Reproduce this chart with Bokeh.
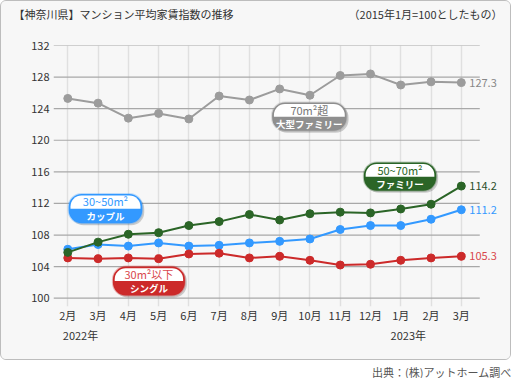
from bokeh.plotting import figure
from bokeh.layouts import column
from bokeh.models import Label, BoxAnnotation, FixedTicker, ColumnDataSource, LinearAxis
from bokeh.embed import file_html
from bokeh.resources import INLINE

months = ["2月", "3月", "4月", "5月", "6月", "7月", "8月", "9月", "10月", "11月", "12月", "1月", "2月", "3月"]
years = ["2022年", "2023年"]
year_pos = [0.42, 11.25]
large_family = [125.3, 124.7, 122.8, 123.4, 122.7, 125.6, 125.1, 126.5, 125.7, 128.2, 128.4, 127.0, 127.4, 127.3]
family = [105.8, 107.1, 108.1, 108.3, 109.2, 109.7, 110.6, 109.9, 110.7, 110.9, 110.8, 111.3, 111.9, 114.2]
couple = [106.2, 106.8, 106.6, 107.0, 106.6, 106.7, 107.0, 107.2, 107.5, 108.7, 109.2, 109.2, 110.0, 111.2]
single = [105.1, 105.0, 105.1, 105.0, 105.6, 105.7, 105.1, 105.3, 104.8, 104.2, 104.3, 104.8, 105.1, 105.3]
y_ticks = [100, 104, 108, 112, 116, 120, 124, 128, 132]

FONT = "Noto Sans CJK JP"
BG = "#f7f7f7"
INNER_W = 509
HEAD_H = 30
MAIN_H = 328

src = ColumnDataSource(dict(x=list(range(len(months))), large=large_family,
                            family=family, couple=couple, single=single))

# ---- header (title row) ----
head = figure(width=INNER_W, height=HEAD_H, output_backend="svg", toolbar_location=None,
              x_axis_type=None, y_axis_type=None, min_border=0, frame_align=False,
              background_fill_color=BG, border_fill_color=BG, outline_line_color=None,
              x_range=(0, 1), y_range=(0, 1))
head.grid.visible = False
head.add_layout(Label(x=12, y=12, x_units="canvas", y_units="canvas",
                      text="【神奈川県】マンション平均家賃指数の推移", text_baseline="middle",
                      text_font=FONT, text_font_size="11px", text_color="#333333"))
head.add_layout(Label(x=501, y=12, x_units="canvas", y_units="canvas",
                      text="（2015年1月=100としたもの）", text_baseline="middle", text_align="right",
                      text_font=FONT, text_font_size="11px", text_color="#333333"))

# ---- main chart ----
p = figure(width=INNER_W, height=MAIN_H, output_backend="svg", toolbar_location=None,
           x_range=(-0.472, 14.46), y_range=(98.95, 132), frame_align=False,
           min_border_left=52, min_border_right=5, min_border_top=14, min_border_bottom=53,
           background_fill_color=BG, border_fill_color=BG, outline_line_color=None)

for ax in (p.xaxis, p.yaxis):
    ax.axis_line_color = None
    ax.major_tick_line_color = None
    ax.minor_tick_line_color = None
    ax.major_tick_out = 0
    ax.major_tick_in = 0
    ax.minor_tick_out = 0
    ax.major_label_text_font = FONT
    ax.major_label_text_font_size = "11px"
    ax.major_label_text_color = "#333333"

p.yaxis.ticker = FixedTicker(ticks=y_ticks)
p.yaxis.major_label_standoff = 4
p.xaxis.ticker = FixedTicker(ticks=list(range(len(months))))
p.xaxis.major_label_overrides = {i: m for i, m in enumerate(months)}
p.xaxis.major_label_standoff = 0

year_axis = LinearAxis(ticker=FixedTicker(ticks=year_pos),
                       major_label_overrides={v: t for v, t in zip(year_pos, years)},
                       axis_line_color=None, major_tick_line_color=None,
                       minor_tick_line_color=None, major_tick_out=0, major_tick_in=0,
                       minor_tick_out=0, major_label_standoff=1,
                       major_label_text_font=FONT, major_label_text_font_size="11px",
                       major_label_text_color="#333333")
p.add_layout(year_axis, "below")

# grid: vertical from axis ticks, horizontal drawn only over the month span
p.ygrid.visible = False
p.xgrid.grid_line_color = "#e0e0e0"
p.xgrid.grid_line_width = 1.5
p.segment(x0=-0.472, x1=13.61, y0=y_ticks, y1=y_ticks, line_color="#a8a8a8", line_width=1.2)

series = [("large", "#9c9c9c", "#888888"),
          ("couple", "#3399ff", "#3399ff"),
          ("single", "#cc2a2a", "#d9474d"),
          ("family", "#2b6527", "#2b4f2b")]
for key, col, tcol in series:
    p.line("x", key, source=src, line_color=col, line_width=2)
    p.scatter("x", key, source=src, marker="circle", size=8, fill_color=col, line_color=col)
    vals = src.data[key]
    p.add_layout(Label(x=len(vals) - 1, y=vals[-1], text=f"{vals[-1]:.1f}", x_offset=8,
                       text_baseline="middle", text_font=FONT, text_font_size="11px",
                       text_color=tcol))


def bubble(x0, x1, ytop, ybot, color, top_text, bottom_text, top_color):
    ymid = (ytop + ybot) / 2
    dx = 2 / 30.27
    dy = 2 / 7.91
    p.add_layout(BoxAnnotation(left=x0 + dx, right=x1 + dx, top=ytop - dy, bottom=ybot - dy,
                               fill_color="black", fill_alpha=0.18, line_color=None,
                               border_radius=13))
    p.add_layout(BoxAnnotation(left=x0, right=x1, top=ytop, bottom=ybot,
                               fill_color=color, fill_alpha=1.0, line_color=color,
                               line_width=2, border_radius=13))
    p.add_layout(BoxAnnotation(left=x0 + 0.06, right=x1 - 0.06, top=ytop - 0.2, bottom=ymid,
                               fill_color="white", fill_alpha=1.0, line_color=None,
                               border_radius=(11, 11, 0, 0)))
    p.add_layout(Label(x=(x0 + x1) / 2, y=(ytop + ymid) / 2, text=top_text, text_align="center",
                       text_baseline="middle", text_font=FONT, text_font_size="11px",
                       text_color=top_color))
    p.add_layout(Label(x=(x0 + x1) / 2, y=(ymid + ybot) / 2, text=bottom_text, text_align="center",
                       text_baseline="middle", text_font=FONT, text_font_size="9.5px",
                       text_font_style="bold", text_color="white"))


bubble(6.75, 9.21, 124.78, 121.2, "#8f8f8f", "70m²超", "大型ファミリー", "#777777")
bubble(9.78, 12.17, 117.19, 113.6, "#2b6527", "50~70m²", "ファミリー", "#2b6527")
bubble(0.03, 2.46, 113.2, 109.48, "#3399ff", "30~50m²", "カップル", "#3399ff")
bubble(1.49, 3.87, 104.0, 100.34, "#cc2a2a", "30m²以下", "シングル", "#d9474d")

box = column(head, p, styles={"border": "1px solid #bdbdbd", "border-radius": "6px",
                              "overflow": "hidden", "background-color": BG})

# ---- footer (source) ----
foot = figure(width=512, height=18, output_backend="svg", toolbar_location=None,
              x_axis_type=None, y_axis_type=None, min_border=0, frame_align=False,
              background_fill_color="white", border_fill_color="white", outline_line_color=None,
              x_range=(0, 1), y_range=(0, 1))
foot.grid.visible = False
foot.add_layout(Label(x=511, y=11, x_units="canvas", y_units="canvas",
                      text="出典：(株)アットホーム調べ", text_baseline="middle", text_align="right",
                      text_font=FONT, text_font_size="11px", text_color="#555555"))

page = column(box, foot)
open("out.html", "w").write(file_html(page, INLINE))
